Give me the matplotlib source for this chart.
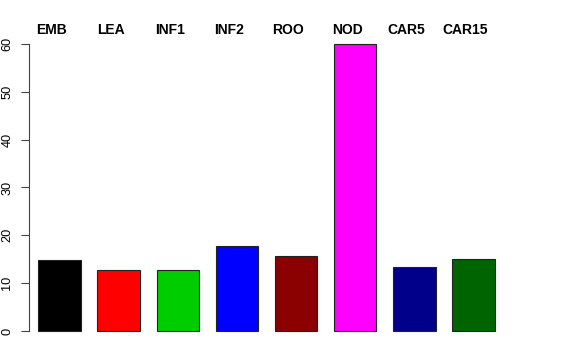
import matplotlib
matplotlib.use('Agg')
import matplotlib.pyplot as plt
from matplotlib import rcParams

tissues = ['EMB', 'LEA', 'INF1', 'INF2', 'ROO', 'NOD', 'CAR5', 'CAR15']
values = [14.8, 12.7, 12.7, 17.7, 15.7, 60.1, 13.3, 15.05]
colors = ['#000000', '#FF0000', '#00CD00', '#0000FF', '#8B0000', '#FF00FF', '#00008B', '#006400']
yticks = [0, 10, 20, 30, 40, 50, 60]

def main():
  rcParams['font.family'] = ['Liberation Sans', 'DejaVu Sans']
  W, H = 576, 360
  fig = plt.figure(figsize=(5.76, 3.6), dpi=100)
  # axes placed in pixels: left 29, right 520, bottom 342.5, top 32.5
  ax = fig.add_axes([29 / W, (H - 342.5) / H, (520 - 29) / W, (342.5 - 32.5) / H])
  px = 456.4 / 10.8
  ax.set_xlim(0.4 - 9.3 / px, 11.2 + 25.3 / px)
  ax.set_ylim(-2.4, 62.4)

  lefts = [0.4 + 1.4 * i for i in range(len(values))]
  centers = [l + 0.5 for l in lefts]
  ax.bar(centers, values, width=1.0, color=colors, edgecolor='#222222', linewidth=0.8)

  for c, t in zip(centers, tissues):
    ax.text(c - 8 / px, 62.1, t, ha='center', va='baseline', fontsize=10,
            fontweight='bold', clip_on=False)

  for s in ['top', 'right', 'bottom']:
    ax.spines[s].set_visible(False)
  ax.spines['left'].set_bounds(0, 60)
  ax.spines['left'].set_color('#444444')
  ax.set_xticks([])
  ax.set_yticks(yticks)
  ax.set_yticklabels([str(v) for v in yticks], rotation=90, va='center', fontsize=9.2)
  ax.tick_params(axis='y', length=5.8, pad=5.5, color='#444444')
  fig.savefig('out.png', dpi=100)

if __name__ == '__main__':
  main()
